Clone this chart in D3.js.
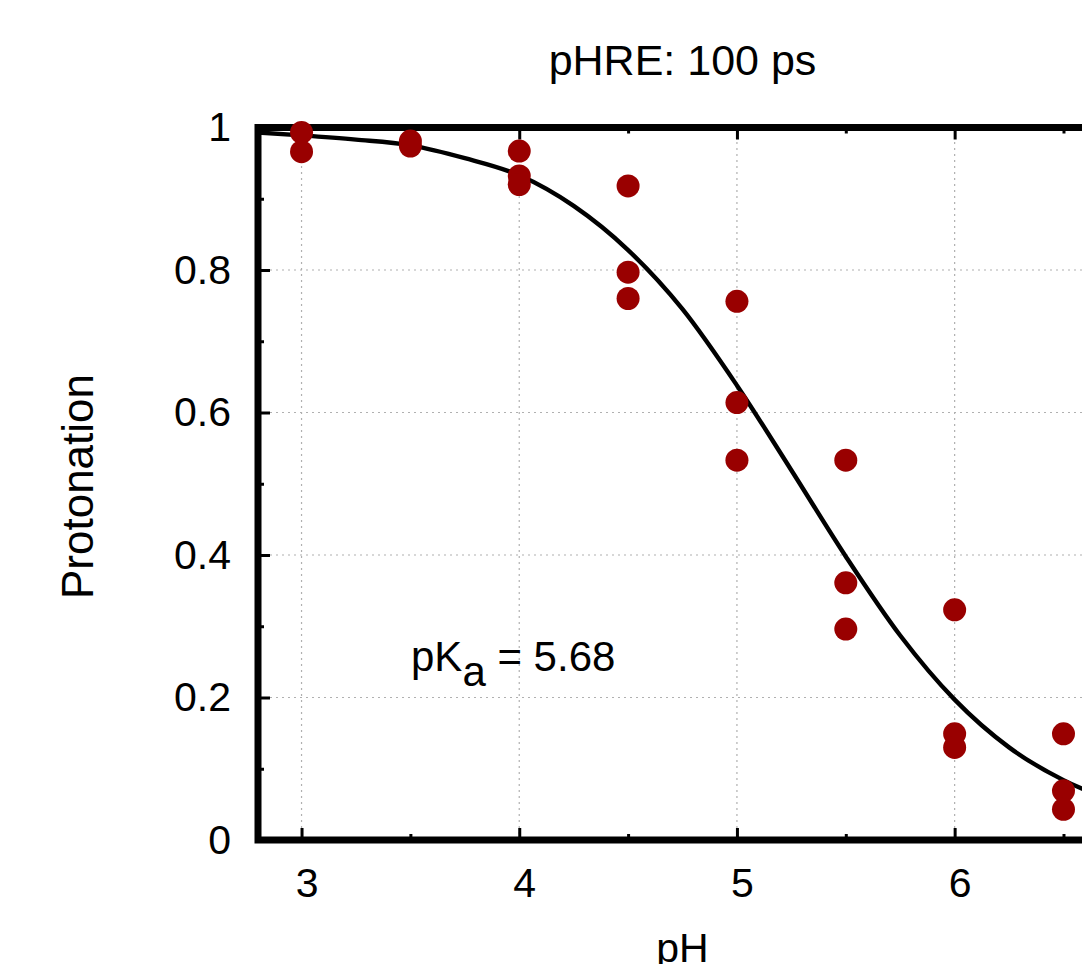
<!DOCTYPE html>
<html>
<head>
<meta charset="utf-8">
<script src="https://cdn.jsdelivr.net/npm/d3@7"></script>
<style>
  body { margin: 0; background: #fff; }
  svg { display: block; font-family: "Liberation Sans", Arial, Helvetica, sans-serif; }
  .grid line { stroke: #b0b0b0; stroke-width: 1.2; stroke-dasharray: 2 4; }
  .axis line { stroke: #000; stroke-width: 3; }
  .axis text { font-size: 41px; fill: #000; }
</style>
</head>
<body>
<div id="chart"></div>
<script>
// 数据点 (pH, 质子化比例)
const phValues    = [3, 3, 3.5, 3.5, 4, 4, 4, 4.5, 4.5, 4.5, 5, 5, 5, 5.5, 5.5, 5.5, 6, 6, 6, 6.5, 6.5, 6.5];
const protonation = [0.993, 0.966, 0.981, 0.974, 0.967, 0.932, 0.920, 0.918, 0.797, 0.760,
                     0.756, 0.614, 0.533, 0.533, 0.361, 0.296, 0.323, 0.149, 0.130, 0.149, 0.069, 0.043];

// 拟合曲线
const fitPH   = [2.8, 3, 3.25, 3.5, 3.75, 4, 4.25, 4.5, 4.75, 5, 5.25, 5.5, 5.75, 6, 6.25, 6.5, 6.75, 7, 7.2];
const fitProt = [0.993, 0.989, 0.983, 0.975, 0.957, 0.933, 0.890, 0.828, 0.745, 0.638, 0.519, 0.398,
                 0.287, 0.197, 0.130, 0.084, 0.053, 0.033, 0.022];

// 刻度
const xTicks = [3, 4, 5, 6];
const xGrid = [3, 4, 5, 6, 7];
const xMinor = [3.5, 4.5, 5.5, 6.5];
const yTicks = [0, 0.2, 0.4, 0.6, 0.8, 1];
const yTickLabels = ['0', '0.2', '0.4', '0.6', '0.8', '1'];
const yMinor = [0.1, 0.3, 0.5, 0.7, 0.9];

const width = 1082, height = 964;

const svg = d3.select('#chart')
    .append('svg')
    .attr('width', width)
    .attr('height', height);

// 比例尺 - 右侧超出画面
const x = d3.scaleLinear().domain([2.8, 7.2]).range([258, 258 + 4.4 * 217.7]);
const y = d3.scaleLinear().domain([0, 1]).range([840, 127.5]);

// 网格线
const grid = svg.append('g').attr('class', 'grid');
grid.selectAll('.gx')
    .data(xGrid)
    .enter()
    .append('line')
    .attr('x1', d => x(d)).attr('x2', d => x(d))
    .attr('y1', y(0)).attr('y2', y(1));
grid.selectAll('.gy')
    .data(yTicks.filter(d => d > 0 && d < 1))
    .enter()
    .append('line')
    .attr('x1', x(2.8)).attr('x2', x(7.2))
    .attr('y1', d => y(d)).attr('y2', d => y(d));

// 坐标轴 (刻度朝内)
const yLabel = d3.scaleOrdinal().domain(yTicks).range(yTickLabels);

svg.append('g').attr('class', 'axis')
    .attr('transform', `translate(0,${y(0)})`)
    .call(d3.axisBottom(x).tickValues(xTicks).tickSize(-12).tickPadding(28).tickFormat(d3.format('d')))
    .call(g => g.selectAll('text').attr('dx', 5));
svg.append('g').attr('class', 'axis')
    .attr('transform', `translate(0,${y(0)})`)
    .call(d3.axisBottom(x).tickValues(xMinor).tickSize(-6).tickFormat(''));
svg.append('g').attr('class', 'axis')
    .attr('transform', `translate(0,${y(1)})`)
    .call(d3.axisTop(x).tickValues(xGrid).tickSize(-12).tickFormat(''));
svg.append('g').attr('class', 'axis')
    .attr('transform', `translate(0,${y(1)})`)
    .call(d3.axisTop(x).tickValues(xMinor).tickSize(-6).tickFormat(''));

svg.append('g').attr('class', 'axis')
    .attr('transform', `translate(${x(2.8)},0)`)
    .call(d3.axisLeft(y).tickValues(yTicks).tickSize(-12).tickPadding(27).tickFormat(d => yLabel(d)));
svg.append('g').attr('class', 'axis')
    .attr('transform', `translate(${x(2.8)},0)`)
    .call(d3.axisLeft(y).tickValues(yMinor).tickSize(-6).tickFormat(''));

svg.selectAll('.axis .domain').remove();

// 边框
svg.append('rect')
    .attr('x', x(2.8)).attr('y', y(1))
    .attr('width', x(7.2) - x(2.8)).attr('height', y(0) - y(1))
    .attr('fill', 'none')
    .attr('stroke', '#000')
    .attr('stroke-width', 7);

// 拟合曲线
const line = d3.line()
    .x((d, i) => x(fitPH[i]))
    .y(d => y(d))
    .curve(d3.curveMonotoneX);

svg.append('path')
    .datum(fitProt)
    .attr('d', line)
    .attr('fill', 'none')
    .attr('stroke', '#000')
    .attr('stroke-width', 4.4);

// 数据点
svg.selectAll('.dot')
    .data(phValues)
    .enter()
    .append('circle')
    .attr('class', 'dot')
    .attr('cx', d => x(d))
    .attr('cy', (d, i) => y(protonation[i]))
    .attr('r', 11.5)
    .attr('fill', '#990000');

// 标题和轴标签
svg.append('text')
    .attr('x', 682.5).attr('y', 75)
    .attr('text-anchor', 'middle')
    .style('font-size', '43px')
    .text('pHRE: 100 ps');

svg.append('text')
    .attr('x', 682.5).attr('y', 962)
    .attr('text-anchor', 'middle')
    .style('font-size', '41px')
    .text('pH');

svg.append('text')
    .attr('transform', 'translate(93,486.5) rotate(-90)')
    .attr('text-anchor', 'middle')
    .style('font-size', '44px')
    .text('Protonation');

// pKa 标注
const pka = svg.append('text')
    .attr('x', 411).attr('y', 671)
    .style('font-size', '42px');
pka.append('tspan').text('pK');
pka.append('tspan').attr('dy', 15).text('a');
pka.append('tspan').attr('dy', -15).text(' = 5.68');
</script>
</body>
</html>
